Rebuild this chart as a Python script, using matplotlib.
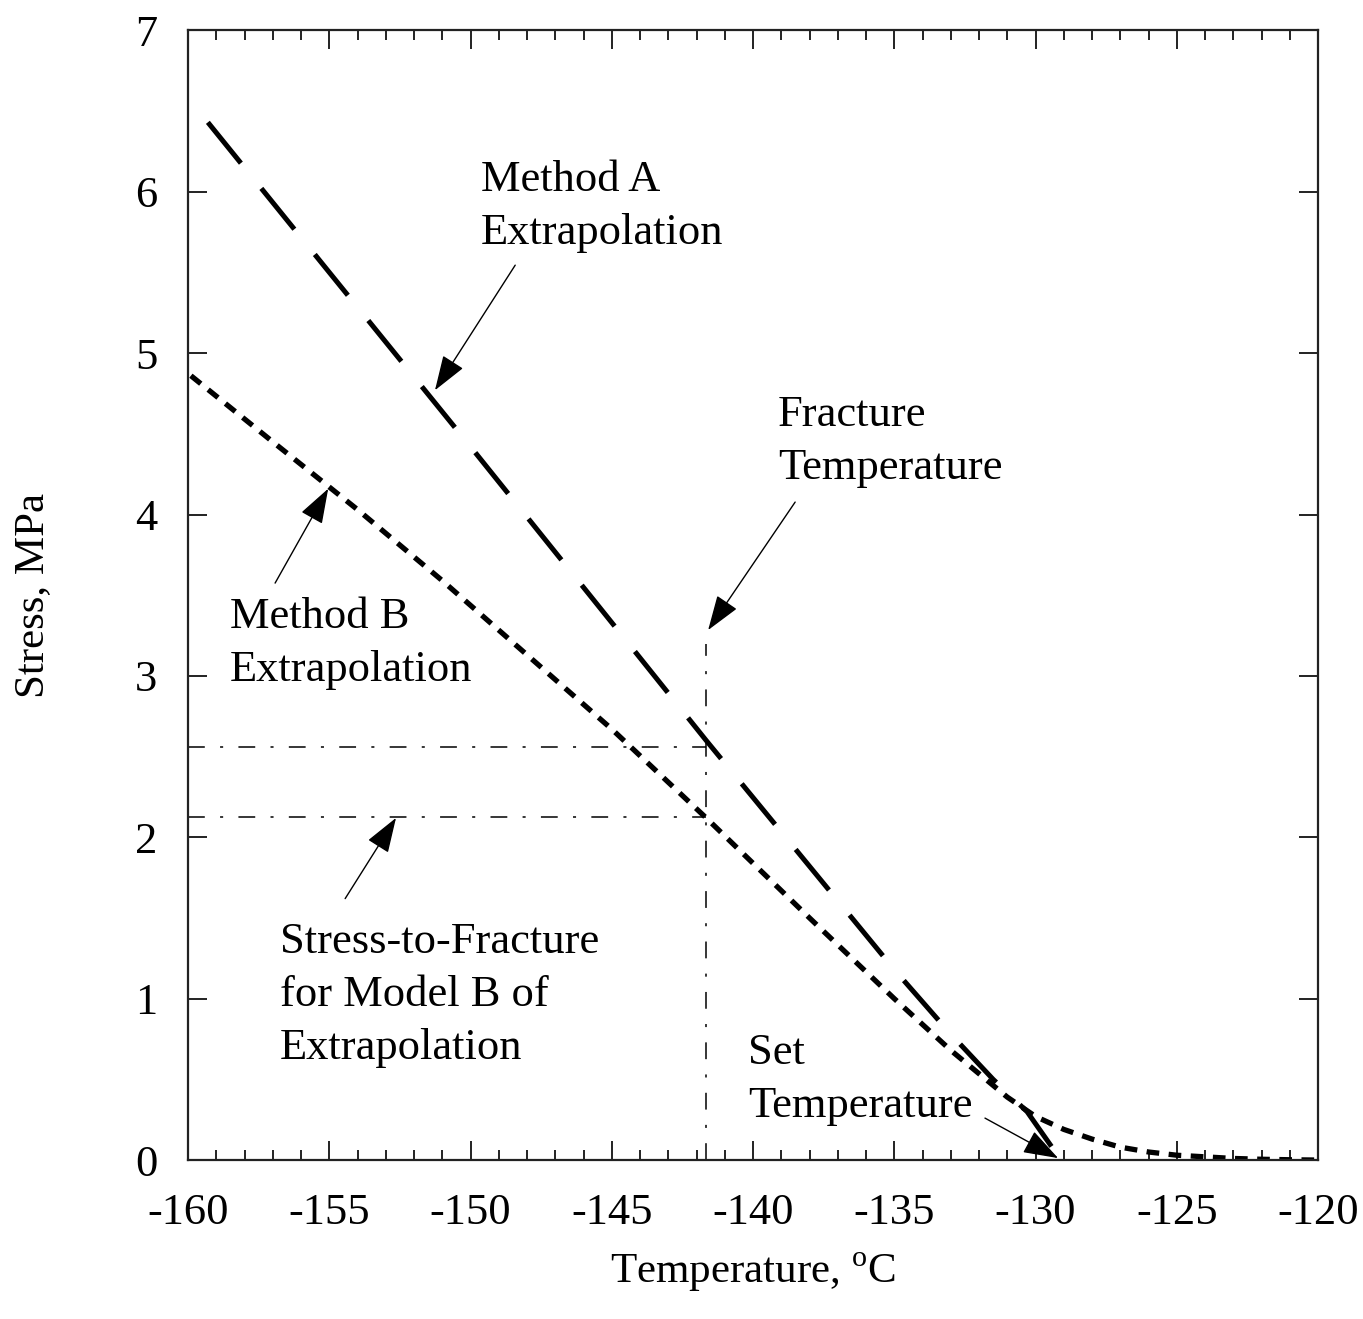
import matplotlib
matplotlib.use("Agg")
import matplotlib.pyplot as plt
from matplotlib.ticker import MultipleLocator

plt.rcParams['font.family'] = ['Liberation Serif', 'DejaVu Serif']
plt.rcParams['mathtext.fontset'] = 'custom'
plt.rcParams['mathtext.rm'] = 'Liberation Serif'
plt.rcParams['axes.unicode_minus'] = False

# Method A extrapolation (long dashes)
a_temp = [-159.3, -155.0, -150.0, -145.0, -141.66, -138.0, -135.0, -133.0, -131.5, -130.3, -129.1]
a_stress = [6.43, 5.50, 4.42, 3.33, 2.60, 1.82, 1.18, 0.78, 0.50, 0.30, 0.0]

# Method B extrapolation (short dashes), with the tail towards -120
b_temp = [-159.9, -157.0, -154.0, -151.0, -148.0, -145.0, -141.66, -138.0, -135.0, -133.0,
          -131.0, -130.0, -129.0, -128.0, -127.0, -126.0, -125.0, -124.0, -123.0, -122.0,
          -121.0, -120.0]
b_stress = [4.86, 4.45, 4.03, 3.59, 3.13, 2.67, 2.12, 1.50, 1.00, 0.68,
            0.39, 0.27, 0.19, 0.13, 0.08, 0.05, 0.03, 0.02, 0.01, 0.005,
            0.002, 0.0]

fracture_temp = -141.66
fracture_top = 3.2
stress_a = 2.56
stress_b = 2.127

# label text, text anchor (T, S), arrow tail, arrow tip
notes = [
    ("Method A\nExtrapolation", (-149.63, 5.91), (-148.42, 5.545), (-151.26, 4.77)),
    ("Method B\nExtrapolation", (-158.51, 3.20), (-156.92, 3.575), (-155.04, 4.16)),
    ("Fracture\nTemperature", (-139.12, 4.455), (-138.51, 4.077), (-141.59, 3.284)),
    ("Stress-to-Fracture\nfor Model B of\nExtrapolation", (-156.74, 1.02), (-154.44, 1.62), (-152.64, 2.12)),
    ("Set\nTemperature", (-140.18, 0.50), (-131.79, 0.26), (-129.2, 0.012)),
]

fig = plt.figure(figsize=(13.63, 13.19), dpi=100)
ax = fig.add_axes([0.138, 0.1205, 0.829, 0.8565])

dashdot = (0, (11, 10, 2, 10))
ax.plot(a_temp, a_stress, color='black', lw=3.6, linestyle=(0, (10.5, 6.5)))
ax.plot(b_temp, b_stress, color='black', lw=3.8, linestyle=(0, (2.4, 1.8)))
ax.plot([fracture_temp, fracture_temp], [0, fracture_top], color='black', lw=1.1, linestyle=dashdot)
ax.plot([-160, fracture_temp], [stress_a, stress_a], color='black', lw=1.1, linestyle=dashdot)
ax.plot([-160, fracture_temp], [stress_b, stress_b], color='black', lw=1.1, linestyle=dashdot)

for label, pos, tail, tip in notes:
    ax.text(pos[0], pos[1], label, ha='left', va='center', fontsize=32, linespacing=1.42)
    ax.annotate('', xy=tip, xytext=tail,
                arrowprops=dict(arrowstyle='-|>,head_length=1.1,head_width=0.38',
                                mutation_scale=20, lw=1, color='black',
                                shrinkA=0, shrinkB=0))

ax.set_xlim(-160, -120)
ax.set_ylim(0, 7)
ax.xaxis.set_major_locator(MultipleLocator(5))
ax.xaxis.set_minor_locator(MultipleLocator(1))
ax.yaxis.set_major_locator(MultipleLocator(1))
ax.tick_params(which='both', direction='in', top=True, right=True, width=1.4, colors='#222222',
               labelcolor='black', labelsize=32)
ax.tick_params(which='major', length=14)
ax.tick_params(which='minor', length=7)
ax.tick_params(axis='x', pad=24)
ax.tick_params(axis='y', pad=22)
for s in ax.spines.values():
    s.set_linewidth(1.6)
    s.set_color('#222222')

ax.set_xlabel(r"Temperature, $^{\mathrm{o}}$C", fontsize=31)
ax.set_ylabel("Stress, MPa", fontsize=31)
ax.xaxis.set_label_coords(0.5, -0.080)
ax.yaxis.set_label_coords(-0.12, 0.5)

fig.savefig("out.png", dpi=100)
